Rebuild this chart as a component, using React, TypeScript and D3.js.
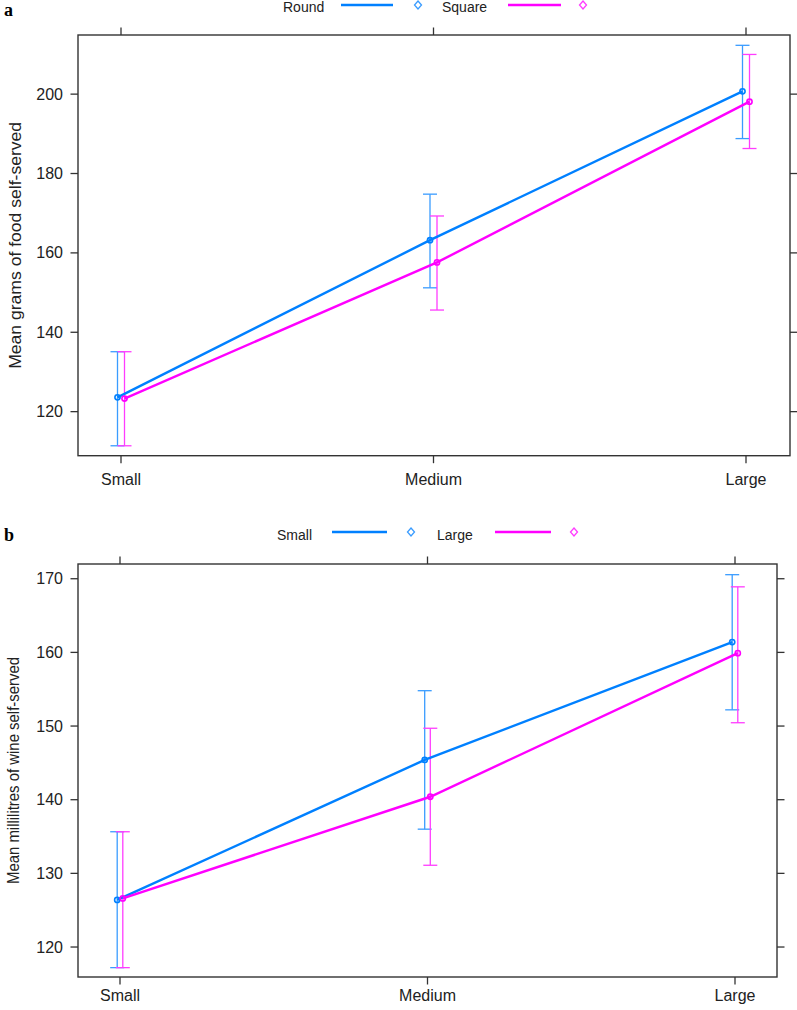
import React from "react";
import * as d3 from "d3";

const categories = ["Small", "Medium", "Large"];

// Panel a: grams of food
const foodSeries = ["Round", "Square"];
const foodRoundMean = [123.6, 163.2, 200.7];
const foodRoundLo = [111.4, 151.2, 188.8];
const foodRoundHi = [135.1, 174.8, 212.3];
const foodSquareMean = [123.3, 157.6, 198.1];
const foodSquareLo = [111.4, 145.6, 186.3];
const foodSquareHi = [135.1, 169.3, 210.0];
const foodTicks = [120, 140, 160, 180, 200];

// Panel b: millilitres of wine
const wineSeries = ["Small", "Large"];
const wineSmallMean = [126.4, 145.4, 161.4];
const wineSmallLo = [117.2, 136.0, 152.2];
const wineSmallHi = [135.65, 154.8, 170.55];
const wineLargeMean = [126.6, 140.4, 159.9];
const wineLargeLo = [117.2, 131.1, 150.45];
const wineLargeHi = [135.65, 149.7, 168.9];
const wineTicks = [120, 130, 140, 150, 160, 170];

const LINE_COLORS = ["#0080ff", "#ff00ff"];
const BAR_COLORS = ["#3a9cff", "#ff3cff"];
const FONT = "'Liberation Sans', Arial, sans-serif";

type Series = { name: string; mean: number[]; lo: number[]; hi: number[] };

type PanelProps = {
  letter: string;
  letterY: number;
  series: Series[];
  ticks: number[];
  yDomain: [number, number];
  box: { x0: number; x1: number; y0: number; y1: number };
  catRange: [number, number];
  dodge: number;
  yTitle: string;
  yTitleX: number;
  yTitleLen: number;
  legendY: number;
  legendTextY: number;
  legend: { textX: number; lineX0: number; lineX1: number; diamondX: number }[];
  xLabelY: number;
};

function Panel(p: PanelProps) {
  const x = d3.scalePoint<string>().domain(categories).range(p.catRange);
  const y = d3.scaleLinear().domain(p.yDomain).range([p.box.y1, p.box.y0]);
  const tl = 7.5;
  const cap = 7;
  const midY = (p.box.y0 + p.box.y1) / 2;
  return (
    <g>
      <text x={4} y={p.letterY} fontFamily="'Liberation Serif', 'Times New Roman', serif" fontWeight="bold" fontSize={18} fill="#000">
        {p.letter}
      </text>
      {/* legend */}
      {p.series.map((s, i) => {
        const L = p.legend[i];
        return (
          <g key={s.name}>
            <text x={L.textX} y={p.legendTextY} fontFamily={FONT} fontSize={14} fill="#222">
              {s.name}
            </text>
            <line x1={L.lineX0} x2={L.lineX1} y1={p.legendY} y2={p.legendY} stroke={LINE_COLORS[i]} strokeWidth={2.5} />
            <path
              d={`M${L.diamondX},${p.legendY - 4} L${L.diamondX + 3.5},${p.legendY} L${L.diamondX},${p.legendY + 4} L${L.diamondX - 3.5},${p.legendY} Z`}
              fill="none"
              stroke={BAR_COLORS[i]}
              strokeWidth={1.3}
            />
          </g>
        );
      })}
      {/* box */}
      <rect x={p.box.x0} y={p.box.y0} width={p.box.x1 - p.box.x0} height={p.box.y1 - p.box.y0} fill="none" stroke="#333" strokeWidth={1.4} />
      {/* category ticks top and bottom */}
      {categories.map((c) => (
        <g key={c}>
          <line x1={x(c)} x2={x(c)} y1={p.box.y0} y2={p.box.y0 - tl} stroke="#333" strokeWidth={1.3} />
          <line x1={x(c)} x2={x(c)} y1={p.box.y1} y2={p.box.y1 + tl} stroke="#333" strokeWidth={1.3} />
          <text x={x(c)} y={p.xLabelY} textAnchor="middle" fontFamily={FONT} fontSize={16} fill="#222">
            {c}
          </text>
        </g>
      ))}
      {/* y ticks left and right */}
      {p.ticks.map((t) => (
        <g key={t}>
          <line x1={p.box.x0} x2={p.box.x0 - tl} y1={y(t)} y2={y(t)} stroke="#333" strokeWidth={1.3} />
          <line x1={p.box.x1} x2={p.box.x1 + tl} y1={y(t)} y2={y(t)} stroke="#333" strokeWidth={1.3} />
          <text x={p.box.x0 - 15} y={y(t) + 5.5} textAnchor="end" fontFamily={FONT} fontSize={16} fill="#222">
            {t}
          </text>
        </g>
      ))}
      {/* y title */}
      <text
        transform={`translate(${p.yTitleX},${midY}) rotate(-90)`}
        textAnchor="middle"
        fontFamily={FONT}
        fontSize={17}
        fill="#222"
        textLength={p.yTitleLen}
        lengthAdjust="spacingAndGlyphs"
      >
        {p.yTitle}
      </text>
      {/* error bars */}
      {p.series.map((s, si) => {
        const off = si === 0 ? -p.dodge : p.dodge;
        return (
          <g key={"eb" + s.name} stroke={BAR_COLORS[si]} strokeWidth={1.3} fill="none">
            {categories.map((c, i) => {
              const cx = (x(c) as number) + off;
              return (
                <g key={c}>
                  <line x1={cx} x2={cx} y1={y(s.lo[i])} y2={y(s.hi[i])} />
                  <line x1={cx - cap} x2={cx + cap} y1={y(s.lo[i])} y2={y(s.lo[i])} />
                  <line x1={cx - cap} x2={cx + cap} y1={y(s.hi[i])} y2={y(s.hi[i])} />
                </g>
              );
            })}
          </g>
        );
      })}
      {/* lines */}
      {p.series.map((s, si) => {
        const off = si === 0 ? -p.dodge : p.dodge;
        const line = d3
          .line<number>()
          .x((_, i) => (x(categories[i]) as number) + off)
          .y((d) => y(d));
        return (
          <g key={"ln" + s.name}>
            <path d={line(s.mean) || ""} fill="none" stroke={LINE_COLORS[si]} strokeWidth={2.4} />
            {s.mean.map((v, i) => (
              <circle key={i} cx={(x(categories[i]) as number) + off} cy={y(v)} r={2.6} fill="none" stroke={LINE_COLORS[si]} strokeWidth={1.6} />
            ))}
          </g>
        );
      })}
    </g>
  );
}

export default function App() {
  const food: Series[] = [
    { name: foodSeries[0], mean: foodRoundMean, lo: foodRoundLo, hi: foodRoundHi },
    { name: foodSeries[1], mean: foodSquareMean, lo: foodSquareLo, hi: foodSquareHi },
  ];
  const wine: Series[] = [
    { name: wineSeries[0], mean: wineSmallMean, lo: wineSmallLo, hi: wineSmallHi },
    { name: wineSeries[1], mean: wineLargeMean, lo: wineLargeLo, hi: wineLargeHi },
  ];
  return (
    <svg width={797} height={1010} style={{ position: "absolute", left: 0, top: 0, background: "#fff" }}>
      <rect width={797} height={1010} fill="#fff" />
      <Panel
        letter="a"
        letterY={16}
        series={food}
        ticks={foodTicks}
        yDomain={[108.9, 214.9]}
        box={{ x0: 78, x1: 790, y0: 35, y1: 455.7 }}
        catRange={[121, 746]}
        dodge={3.5}
        yTitle="Mean grams of food self-served"
        yTitleX={21}
        yTitleLen={247}
        legendY={5}
        legendTextY={12}
        legend={[
          { textX: 283, lineX0: 341, lineX1: 393, diamondX: 418 },
          { textX: 442, lineX0: 508, lineX1: 561, diamondX: 583 },
        ]}
        xLabelY={485}
      />
      <Panel
        letter="b"
        letterY={541}
        series={wine}
        ticks={wineTicks}
        yDomain={[115.93, 172.0]}
        box={{ x0: 78, x1: 777, y0: 564, y1: 977 }}
        catRange={[120, 735]}
        dodge={2.8}
        yTitle="Mean millilitres of wine self-served"
        yTitleX={19}
        yTitleLen={227}
        legendY={532}
        legendTextY={540}
        legend={[
          { textX: 277, lineX0: 332, lineX1: 387, diamondX: 411 },
          { textX: 437, lineX0: 495, lineX1: 551, diamondX: 574 },
        ]}
        xLabelY={1001}
      />
    </svg>
  );
}
